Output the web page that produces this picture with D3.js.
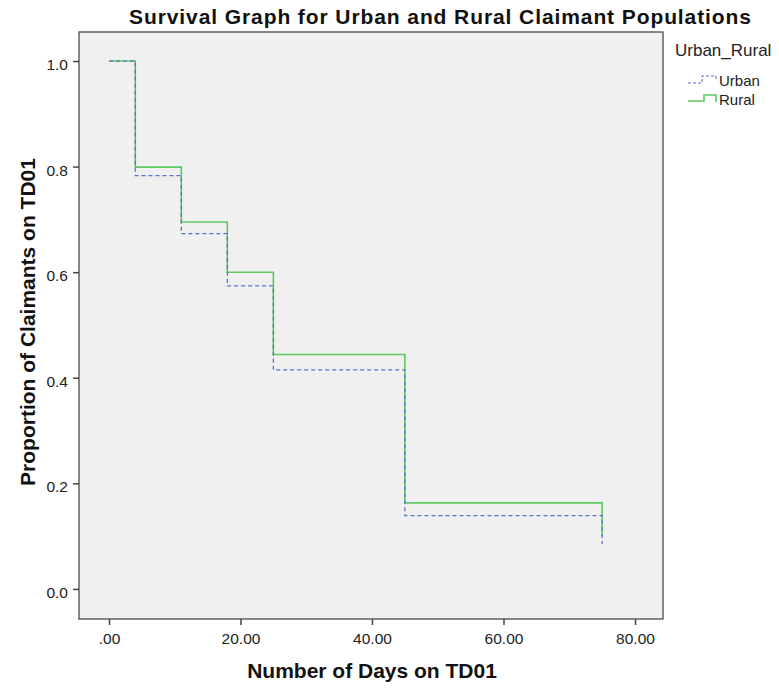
<!DOCTYPE html>
<html>
<head>
<meta charset="utf-8">
<script src="https://cdn.jsdelivr.net/npm/d3@7"></script>
<style>
  body { margin: 0; background: #fff; }
  text { font-family: "Liberation Sans", Arial, sans-serif; }
</style>
</head>
<body>
<svg id="chart" width="779" height="690"></svg>
<script>
// survival steps
const days = [0, 4, 11, 18, 25, 45, 75];
const urban = [1.0, 0.783, 0.673, 0.574, 0.415, 0.139, 0.085];
const rural = [1.0, 0.799, 0.695, 0.600, 0.444, 0.163, 0.100];
const xTicks = [0, 20, 40, 60, 80];
const yTicks = [0, 0.2, 0.4, 0.6, 0.8, 1.0];
const groups = ["Urban", "Rural"];

const svg = d3.select("#chart");
const plotL = 79, plotR = 663, plotT = 32, plotB = 619;

const x = d3.scaleLinear().domain([-4.56, 84.26]).range([plotL, plotR]);
const y = d3.scaleLinear().domain([-0.057, 1.055]).range([plotB, plotT]);

svg.append("rect")
  .attr("x", plotL).attr("y", plotT)
  .attr("width", plotR - plotL).attr("height", plotB - plotT)
  .attr("fill", "#f0f0f0")
  .attr("stroke", "#4a4a4a").attr("stroke-width", 1.3);

// axes
const xAxis = svg.append("g")
  .attr("transform", `translate(0,${plotB})`)
  .call(d3.axisBottom(x).tickValues(xTicks).tickSize(6).tickSizeOuter(0)
    .tickFormat(d => d === 0 ? ".00" : d3.format(".2f")(d)));
const yAxis = svg.append("g")
  .attr("transform", `translate(${plotL},0)`)
  .call(d3.axisLeft(y).tickValues(yTicks).tickSize(6).tickSizeOuter(0)
    .tickFormat(d3.format(".1f")));
[xAxis, yAxis].forEach(a => {
  a.select(".domain").remove();
  a.selectAll(".tick line").attr("stroke", "#444").attr("stroke-width", 1.5);
  a.selectAll(".tick text").attr("fill", "#222").style("font-size", "15.5px");
});
xAxis.selectAll(".tick text").attr("y", 25).attr("dy", 0);
yAxis.selectAll(".tick text").attr("x", -11).attr("dy", "0.55em");

// step lines
const line = d3.line()
  .x(d => x(d[0])).y(d => y(d[1]))
  .curve(d3.curveStepAfter);

svg.append("path")
  .datum(days.map((d, i) => [d, rural[i]]))
  .attr("d", line)
  .attr("fill", "none").attr("stroke", "#5ec962").attr("stroke-width", 1.6);

svg.append("path")
  .datum(days.map((d, i) => [d, urban[i]]))
  .attr("d", line)
  .attr("fill", "none").attr("stroke", "#5b72cc").attr("stroke-width", 1.3)
  .attr("stroke-dasharray", "4,3");

// titles
svg.append("text")
  .attr("x", 440).attr("y", 24)
  .attr("text-anchor", "middle")
  .attr("textLength", 622).attr("lengthAdjust", "spacing")
  .style("font-size", "21px").style("font-weight", "bold")
  .attr("fill", "#111")
  .text("Survival Graph for Urban and Rural Claimant Populations");

svg.append("text")
  .attr("x", 372).attr("y", 678)
  .attr("text-anchor", "middle")
  .style("font-size", "21px").style("font-weight", "bold")
  .attr("fill", "#111")
  .text("Number of Days on TD01");

svg.append("text")
  .attr("transform", `translate(35,322) rotate(-90)`)
  .attr("text-anchor", "middle")
  .style("font-size", "21px").style("font-weight", "bold")
  .attr("fill", "#111")
  .text("Proportion of Claimants on TD01");

// legend
svg.append("text")
  .attr("x", 675).attr("y", 56)
  .style("font-size", "17px").attr("fill", "#222")
  .text("Urban_Rural");

const legendStyles = [
  { color: "#5b72cc", dash: "3,2", w: 1.2, low: 83, high: 76, step: 702, end: 81 },
  { color: "#5ec962", dash: null, w: 1.6, low: 101, high: 95, step: 704, end: 102 }
];
groups.forEach((g, i) => {
  const s = legendStyles[i];
  svg.append("path")
    .attr("d", `M688,${s.low}H${s.step}V${s.high}H716V${s.end}`)
    .attr("fill", "none")
    .attr("stroke", s.color)
    .attr("stroke-width", s.w)
    .attr("stroke-dasharray", s.dash);
  svg.append("text")
    .attr("x", 719).attr("y", 86 + i * 18.5)
    .style("font-size", "15px").attr("fill", "#222")
    .text(g);
});
</script>
</body>
</html>
